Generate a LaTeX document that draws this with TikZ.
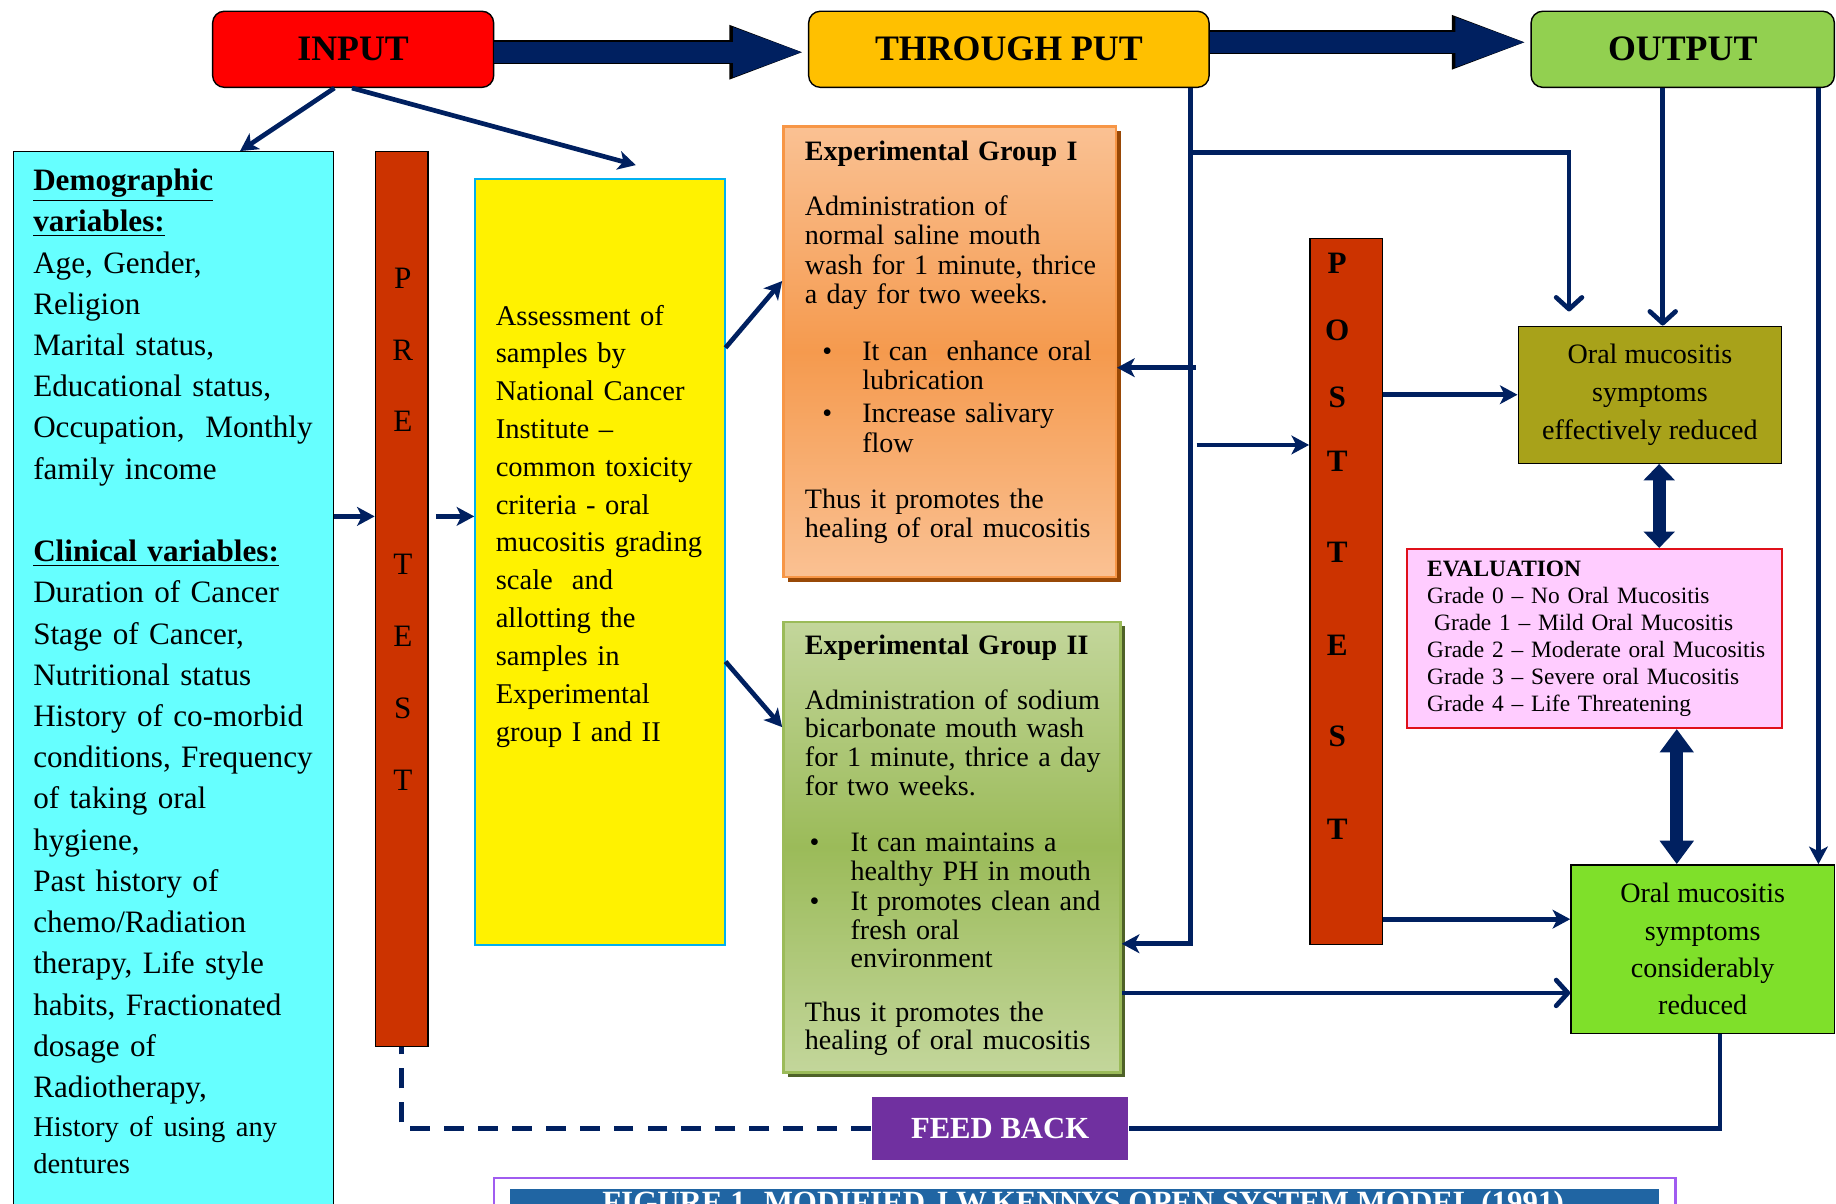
\documentclass[tikz,border=0pt]{standalone}
\usepackage{fontspec}
\setmainfont{Liberation Serif}
\usetikzlibrary{arrows.meta,shadows,calc}

\definecolor{navy}{HTML}{002060}
\definecolor{inred}{HTML}{FF0000}
\definecolor{thruamber}{HTML}{FFC000}
\definecolor{outgreen}{HTML}{92D050}
\definecolor{democyan}{HTML}{66FFFF}
\definecolor{testred}{HTML}{CC3300}
\definecolor{assessblue}{HTML}{00B0F0}
\definecolor{gonetop}{HTML}{FAC193}
\definecolor{gonemid}{HTML}{F59A4E}
\definecolor{goneline}{HTML}{F79646}
\definecolor{goneshade}{HTML}{984806}
\definecolor{gtwotop}{HTML}{C3D69B}
\definecolor{gtwomid}{HTML}{9BBB59}
\definecolor{gtwoshade}{HTML}{4F6228}
\definecolor{oralolive}{HTML}{A8A21A}
\definecolor{evalpink}{HTML}{FFCCFF}
\definecolor{evalred}{HTML}{E0101A}
\definecolor{oralgreen}{HTML}{7FE02A}
\definecolor{fbpurple}{HTML}{7030A0}
\definecolor{capframe}{HTML}{A05CF0}
\definecolor{capblue}{HTML}{2065A3}

\tikzset{
  box/.style={draw=black, line width=0.6pt, inner sep=0pt, anchor=north west},
  titlebox/.style={box, rounded corners=5pt, font=\fontsize{15.3}{18}\selectfont\bfseries},
  txt/.style={inner sep=0pt, anchor=north west, align=left},
  conn/.style={draw=navy, line width=2pt, -{Stealth[length=7.5pt,width=8pt,inset=2pt]}},
  openconn/.style={draw=navy, line width=2pt, -{Straight Barb[length=5pt,width=11pt,round]}},
  plainline/.style={draw=navy, line width=2pt},
  fbdash/.style={draw=navy, line width=2pt, dash pattern=on 8.5pt off 6pt},
  fatarr/.style={draw=navy, line width=9pt, -{Triangle[length=32pt,width=18.5pt]},
    preaction={draw=black, line width=10.2pt, -{Triangle[length=33.5pt,width=20.3pt]}}},
  dblarr/.style={draw=navy, line width=5.5pt, {Triangle[length=7pt,width=13pt]}-{Triangle[length=7pt,width=13pt]}},
  dblarrlong/.style={draw=navy, line width=5.5pt, {Triangle[length=10pt,width=14pt]}-{Triangle[length=10pt,width=14pt]}},
  preletter/.style={font=\fontsize{13.3}{15}\selectfont, inner sep=0pt},
  postletter/.style={font=\fontsize{13.3}{15}\selectfont\bfseries, inner sep=0pt}
}

\newcommand{\bul}[2]{\hspace*{#1}\makebox[#2][l]{\textbullet}}

\begin{document}
\begin{tikzpicture}[x=0.5pt,y=-0.5pt]
\useasboundingbox (0,0) rectangle (1568,1028);

% top row
\node[titlebox, fill=inred, minimum width=120pt, minimum height=32.5pt] (input) at (181,9) {INPUT};
\node[titlebox, fill=thruamber, minimum width=171pt, minimum height=32.5pt] (thru) at (690,9) {THROUGH PUT};
\node[titlebox, fill=outgreen, minimum width=129.5pt, minimum height=32.5pt] (output) at (1307,9) {OUTPUT};

\draw[fatarr] ([yshift=-1.25pt]input.east) -- ([yshift=-1.25pt]thru.west);
\draw[fatarr] ([yshift=3pt]thru.east) -- ([yshift=3pt]output.west);

% input side
\node[box, fill=democyan, minimum width=136.5pt, minimum height=460pt] (demo) at (11,129) {};
\node[txt, text width=128pt, font=\fontsize{13.3}{17.6}\selectfont] (demotxt) at (28,144) {%
\underline{\textbf{Demographic}}\\
\underline{\textbf{variables:}}\\
Age, Gender,\\
Religion\\
Marital status,\\
Educational status,\\
Occupation,\ \ Monthly\\
family income\\[17.6pt]
\underline{\textbf{Clinical variables:}}\\
Duration of Cancer\\
Stage of Cancer,\\
Nutritional status\\
History of co-morbid\\
conditions, Frequency\\
of taking oral\\
hygiene,\\
Past history of\\
chemo/Radiation\\
therapy, Life style\\
habits, Fractionated\\
dosage of\\
Radiotherapy,\\[-1.1pt]
{\fontsize{12.2}{16}\selectfont History of using any}\\[-1.6pt]
{\fontsize{12.2}{16}\selectfont dentures}};

\node[box, fill=testred, minimum width=22.5pt, minimum height=382pt] (pretest) at (320,129) {};
\foreach \l/\y in {P/238, R/299, E/360, T/482, E/543, S/605, T/666}
  \node[preletter] (pre-\y) at (344,\y) {\l};

\node[box, draw=assessblue, line width=0.8pt, fill=yellow, minimum width=106.5pt, minimum height=327pt] (assess) at (405,152) {};
\node[txt, text width=100pt, font=\fontsize{12.2}{16.15}\selectfont] (assesstxt) at (423,260) {%
Assessment of\\
samples by\\
National Cancer\\
Institute --\\
common toxicity\\
criteria - oral\\
mucositis grading\\
scale\ \ and\\
allotting the\\
samples in\\
Experimental\\
group I and II};

\coordinate (dtop) at (205,129);
\coordinate (atop) at (543,141);
\draw[conn] ([xshift=-8pt]input.south) -- (dtop);
\draw[conn] ([xshift=-0.5pt]input.south) -- (atop);

\coordinate (m1) at (0,441);
\draw[conn] (demo.east |- m1) -- (pretest.west |- m1);
\draw[conn] ([xshift=3pt]pretest.east |- m1) -- (assess.west |- m1);

% through put side
\node[box, draw=goneline, line width=1pt, top color=gonetop, bottom color=gonetop, middle color=gonemid,
  drop shadow={fill=goneshade, opacity=1, shadow xshift=2pt, shadow yshift=-2pt},
  minimum width=142pt, minimum height=192.5pt] (grp1) at (668,107) {};
\node[txt, text width=136pt, font=\fontsize{12}{12.5}\selectfont] (grp1txt) at (687,120) {%
\textbf{Experimental Group I}\\[11pt]
Administration of\\
normal saline mouth\\
wash for 1 minute, thrice\\
a day for two weeks.\\[12pt]
\bul{7.5pt}{17pt}It can\ \ enhance oral\\
\hspace*{24.5pt}lubrication\\[1.5pt]
\bul{7.5pt}{17pt}Increase salivary\\
\hspace*{24.5pt}flow\\[11.5pt]
Thus it promotes the\\
healing of oral mucositis};

\node[box, draw=gtwomid, line width=1pt, top color=gtwotop, bottom color=gtwotop, middle color=gtwomid,
  drop shadow={fill=gtwoshade, opacity=1, shadow xshift=2pt, shadow yshift=-2pt},
  minimum width=144pt, minimum height=192.5pt] (grp2) at (668,530) {};
\node[txt, text width=138pt, font=\fontsize{12}{12.25}\selectfont] (grp2txt) at (687,542) {%
\textbf{Experimental Group II}\\[11pt]
Administration of sodium\\
bicarbonate mouth wash\\
for 1 minute, thrice a day\\
for two weeks.\\[12pt]
\bul{2pt}{17.5pt}It can maintains a\\
\hspace*{19.5pt}healthy PH in mouth\\[0.5pt]
\bul{2pt}{17.5pt}It promotes clean and\\
\hspace*{19.5pt}fresh oral\\
\hspace*{19.5pt}environment\\[10.5pt]
Thus it promotes the\\
healing of oral mucositis};

\coordinate (a1) at (618,297);
\coordinate (a1e) at (668,240);
\coordinate (a2) at (618,565);
\coordinate (a2e) at (668,621);
\draw[conn] (assess.east |- a1) -- (grp1.west |- a1e);
\draw[conn] (assess.east |- a2) -- (grp2.west |- a2e);

\node[box, fill=testred, minimum width=31pt, minimum height=301.5pt] (posttest) at (1118,203) {};
\foreach \l/\y in {P/225, O/282, S/339, T/394, T/472, E/551, S/629, T/708}
  \node[postletter] (post-\y) at (1142,\y) {\l};

\coordinate (tk) at (1017,806);
\coordinate (tb) at (1017,130);
\coordinate (ob) at (1340,266);
\coordinate (t1) at (1021,314);
\coordinate (t2) at (1022,380);
\draw[conn] (thru.south -| tk) -- (tk) -- (grp2.east |- tk);
\draw[openconn] (tb) -| (ob);
\draw[conn] (t1) -- (grp1.east |- t1);
\draw[conn] (t2) -- (posttest.west |- t2);

% output side
\node[box, fill=oralolive, minimum width=112.5pt, minimum height=58.5pt, align=center,
  font=\fontsize{12}{16.25}\selectfont] (oral1) at (1296,278) {Oral mucositis\\symptoms\\effectively reduced};
\node[box, draw=evalred, line width=0.8pt, fill=evalpink, minimum width=160pt, minimum height=76.5pt,
  text width=152pt, inner xsep=4pt, align=left, font=\fontsize{10}{11.5}\selectfont] (eval) at (1201,468) {%
\hspace*{4.5pt}\textbf{EVALUATION}\\
\hspace*{4.5pt}Grade 0 -- No Oral Mucositis\\
\hspace*{7.5pt}Grade 1 -- Mild Oral Mucositis\\
\hspace*{4.5pt}Grade 2 -- Moderate oral Mucositis\\
\hspace*{4.5pt}Grade 3 -- Severe oral Mucositis\\
\hspace*{4.5pt}Grade 4 -- Life Threatening};
\node[box, fill=oralgreen, minimum width=112.5pt, minimum height=72pt, align=center,
  font=\fontsize{12}{16}\selectfont] (oral2) at (1341,738) {Oral mucositis\\symptoms\\considerably\\reduced};

\coordinate (ox) at (1420,0);
\coordinate (rx) at (1553,0);
\draw[openconn] (output.south -| ox) -- (oral1.north -| ox);
\draw[conn] (output.south -| rx) -- (oral2.north -| rx);

\draw[conn] (posttest.east |- oral1.west) -- (oral1.west);
\coordinate (p2) at (0,785);
\draw[conn] (posttest.east |- p2) -- (oral2.west |- p2);
\coordinate (g2y) at (0,848);
\draw[openconn] (grp2.east |- g2y) -- (oral2.west |- g2y);

\coordinate (e1) at (1417,0);
\coordinate (e2) at (1432,0);
\draw[dblarr] (oral1.south -| e1) -- (eval.north -| e1);
\draw[dblarrlong] (eval.south -| e2) -- (oral2.north -| e2);

% feed back
\node[box, draw=none, fill=fbpurple, minimum width=109.5pt, minimum height=27pt, text=white,
  font=\fontsize{13.1}{15}\selectfont\bfseries] (feedback) at (744,936) {FEED BACK};
\coordinate (fx) at (1469,0);
\draw[plainline] (oral2.south -| fx) |- (feedback.east);
\draw[fbdash] (feedback.west) -| (pretest.south);

% caption (cut by the page)
\node[box, draw=capframe, line width=1pt, minimum width=504.5pt, minimum height=30pt] (capframe) at (421,1005) {};
\node[box, draw=none, fill=capblue, minimum width=490.5pt, minimum height=25pt] (capbar) at (435,1015) {};
\node[text=white, font=\fontsize{13.2}{15}\selectfont\bfseries, inner sep=0pt] (captxt) at (925,1029) {FIGURE 1. MODIFIED J.W.KENNYS OPEN SYSTEM MODEL (1991)};

\end{tikzpicture}
\end{document}
